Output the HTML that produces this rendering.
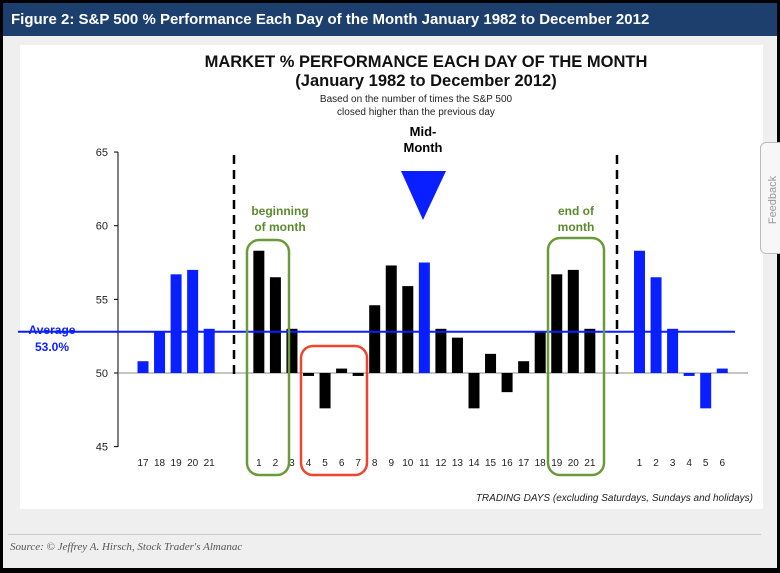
<!DOCTYPE html>
<html><head><meta charset="utf-8"><style>
body{margin:0;width:780px;height:573px;overflow:hidden;background:#000;font-family:"Liberation Sans",sans-serif}
#frame{position:absolute;left:3px;top:3px;width:774px;height:565px;background:#efefef}
#hdr{position:absolute;left:0;top:0;width:774px;height:33px;background:#1c3f6e;color:#fff;font-weight:bold;font-size:15px;line-height:33px;padding-left:8px;box-sizing:border-box}
#panel{position:absolute;left:17px;top:42px;width:743px;height:464px;background:#fff}
#div{position:absolute;left:5px;top:531px;width:753px;height:1px;background:#c8c8c8}
#src{position:absolute;left:7px;top:538px;font-family:"Liberation Serif",serif;font-style:italic;font-size:11px;color:#555}
#fb{position:absolute;left:760px;top:142px;width:30px;height:110px;border:1px solid #bbb;border-radius:6px;background:#f7f7f7}
svg{position:absolute;left:0;top:0}
</style></head><body>
<div id="frame">
<div id="hdr">Figure 2: S&amp;P 500 % Performance Each Day of the Month January 1982 to December 2012</div>
<div id="panel"></div>
<div id="div"></div>
<div id="src">Source: © Jeffrey A. Hirsch, Stock Trader's Almanac</div>
</div>
<div id="fb"></div>
<svg id="chart" width="780" height="573"></svg>
<script>
const dayLabels=["17","18","19","20","21","","","1","2","3","4","5","6","7","8","9","10","11","12","13","14","15","16","17","18","19","20","21","","","1","2","3","4","5","6"];
const values=[50.8,52.8,56.7,57.0,53.0,null,null,58.3,56.5,53.0,49.8,47.6,50.3,49.8,54.6,57.3,55.9,57.5,53.0,52.4,47.6,51.3,48.7,50.8,52.8,56.7,57.0,53.0,null,null,58.3,56.5,53.0,49.8,47.6,50.3];
const blueIdx=[0,1,2,3,4,17,30,31,32,33,34,35];
const yTicks=[45,50,55,60,65];
const average=52.8;
const NS="http://www.w3.org/2000/svg";
const svg=document.getElementById('chart');
const y=v=>373-(v-50)*14.73;
const x=i=>143+16.55*i;
function mk(t,a,txt){const e=document.createElementNS(NS,t);for(const k in a)e.setAttribute(k,a[k]);if(txt!==undefined)e.textContent=txt;svg.appendChild(e);return e;}
function txt(x0,y0,s,attrs,name){const e=mk('text',Object.assign({x:x0,y:y0,'font-family':'Liberation Sans, sans-serif'},attrs),s);return e;}
txt(426,67,'MARKET % PERFORMANCE  EACH DAY OF THE MONTH',{'font-size':16.5,'font-weight':'bold','text-anchor':'middle','fill':'#111'},'chart-title');
txt(426,86,'(January 1982 to December 2012)',{'font-size':16.5,'font-weight':'bold','text-anchor':'middle','fill':'#111'},'chart-subtitle');
txt(416,102,'Based on the number of times the S&P 500',{'font-size':10,'text-anchor':'middle','fill':'#222'},'subtitle-note-1');
txt(416,115,'closed higher than the previous  day',{'font-size':10,'text-anchor':'middle','fill':'#222'},'subtitle-note-2');
txt(423,136,'Mid-',{'font-size':13,'font-weight':'bold','text-anchor':'middle'},'mid-month-label');
txt(423,152,'Month',{'font-size':13,'font-weight':'bold','text-anchor':'middle'},'mid-month-label-2');
let tri=mk('polygon',{points:'401,171 446,171 423,220',fill:'#0a1fff'});

let ax=mk('line',{x1:118,y1:152,x2:118,y2:447,stroke:'#000','stroke-width':1});

yTicks.forEach(t=>{
 let l=mk('line',{x1:114,x2:118,y1:y(t),y2:y(t),stroke:'#000'});
 
 txt(108,y(t)+4,String(t),{'font-size':11,'text-anchor':'end','fill':'#222'},'y-tick-label');
});
let base=mk('line',{x1:118,x2:748,y1:y(50),y2:y(50),stroke:'#888','stroke-width':1});

values.forEach((v,i)=>{
 if(v!==null){
  const r=mk('rect',{x:x(i)-5.5,width:11,y:Math.min(y(v),y(50)),height:Math.abs(y(v)-y(50)),fill:blueIdx.includes(i)?'#0a1fff':'#000'});
  
  
 }
 if(dayLabels[i]) txt(x(i),466,dayLabels[i],{'font-size':10,'text-anchor':'middle','fill':'#222'},'x-tick-label');
});
let av=mk('line',{x1:18,x2:735,y1:y(average),y2:y(average),stroke:'#0a1fff','stroke-width':2});

txt(52,334,'Average',{'font-size':12,'font-weight':'bold','text-anchor':'middle','fill':'#0a1fff'},'average-label');
txt(52,351,'53.0%',{'font-size':12,'font-weight':'bold','text-anchor':'middle','fill':'#0a1fff'},'average-value');
[234,617].forEach(xx=>{let d=mk('line',{x1:xx,x2:xx,y1:155,y2:376,stroke:'#000','stroke-width':2.5,'stroke-dasharray':'9,6'});
 });
function box(x0,y0,w,h,c,n){let b=mk('rect',{x:x0,y:y0,width:w,height:h,rx:12,fill:'none',stroke:c,'stroke-width':2.5});}
box(247,240,42,235,'#6a9a3a','beginning-highlight');
box(301,346,66,129,'#f0442c','early-month-highlight');
box(548,238,56,237,'#6a9a3a','end-highlight');
txt(280,215,'beginning',{'font-size':12,'font-weight':'bold','text-anchor':'middle','fill':'#5b8a2e'},'beginning-label');
txt(280,231,'of month',{'font-size':12,'font-weight':'bold','text-anchor':'middle','fill':'#5b8a2e'},'beginning-label-2');
txt(576,215,'end of',{'font-size':12,'font-weight':'bold','text-anchor':'middle','fill':'#5b8a2e'},'end-label');
txt(576,231,'month',{'font-size':12,'font-weight':'bold','text-anchor':'middle','fill':'#5b8a2e'},'end-label-2');
txt(753,501,'TRADING DAYS (excluding Saturdays, Sundays and holidays)',{'font-size':10,'font-style':'italic','text-anchor':'end','fill':'#222'},'x-axis-title');
let fb=txt(776,200,'Feedback',{'font-size':11,'fill':'#999','text-anchor':'middle',transform:'rotate(-90 776 200)'},'feedback-label');
</script>
</body></html>
